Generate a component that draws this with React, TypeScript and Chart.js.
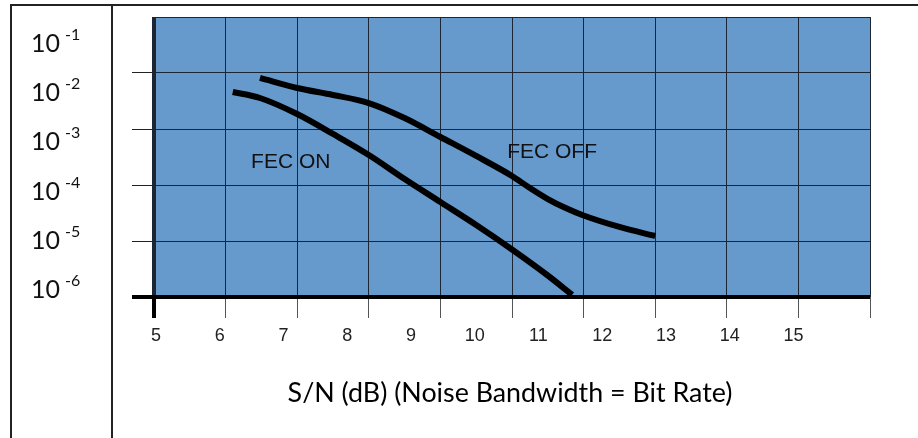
import React, { useEffect, useRef } from 'react';
import { Chart, registerables } from 'chart.js';

Chart.register(...registerables);

// ---- data ----
const xTicks = [5, 6, 7, 8, 9, 10, 11, 12, 13, 14, 15];
const xTickLabels = ['5', '6', '7', '8', '9', '10', '11', '12', '13', '14', '15'];
const yDecades = [1e-6, 1e-5, 1e-4, 1e-3, 1e-2, 1e-1];
const yLabelExponents = ['-1', '-2', '-3', '-4', '-5', '-6'];

const fecOnX = [6.1, 6.48, 7.0, 7.5, 8.0, 8.5, 9.0, 9.5, 10.0, 10.5, 10.84];
const fecOnBer = [4.58e-3, 3.58e-3, 1.85e-3, 8.15e-4, 3.43e-4, 1.28e-4, 4.97e-5, 1.93e-5, 7.05e-6, 2.42e-6, 1.09e-6];

const fecOffX = [6.48, 7.0, 7.5, 8.0, 8.5, 9.0, 9.5, 10.0, 10.25, 10.5, 10.75, 11.0, 11.5, 12.0];
const fecOffBer = [8.15e-3, 5.39e-3, 4.05e-3, 2.91e-3, 1.57e-3, 7.2e-4, 3.3e-4, 1.45e-4, 8.84e-5, 5.62e-5, 3.88e-5, 2.85e-5, 1.78e-5, 1.23e-5];

const curveLabelText = ['FEC ON', 'FEC OFF'];
const curveLabelX = [6.91, 10.56];
const curveLabelY = [2.6e-4, 3.9e-4];

const axisTitle = 'S/N (dB) (Noise Bandwidth = Bit Rate)';

// label axis range (tick labels in the original are not aligned with the grid)
const labelAxisMin = 4.97;
const labelAxisMax = 16.2;

const PLOT_BG = '#6699cc';
const GRID = '#1c2633';

const decor = {
  id: 'decor',
  beforeDraw(chart: any) {
    const { ctx, chartArea: a, width, height } = chart;
    ctx.save();
    ctx.fillStyle = '#ffffff';
    ctx.fillRect(0, 0, width, height);
    ctx.fillStyle = PLOT_BG;
    ctx.fillRect(a.left, a.top, a.right - a.left, a.bottom - a.top);
    ctx.restore();
  },
  afterDraw(chart: any) {
    const { ctx, chartArea: a, width, height, scales } = chart;
    ctx.save();
    // table borders
    ctx.strokeStyle = '#222';
    ctx.lineWidth = 2;
    ctx.beginPath();
    ctx.moveTo(10, 5);
    ctx.lineTo(width, 5);
    ctx.moveTo(11, 5);
    ctx.lineTo(11, height);
    ctx.moveTo(112, 5);
    ctx.lineTo(112, height);
    ctx.stroke();

    // left column labels
    ctx.fillStyle = '#111';
    ctx.textAlign = 'left';
    ctx.textBaseline = 'alphabetic';
    yLabelExponents.forEach((e, i) => {
      const base = 52 + i * 49.2;
      ctx.font = '25px Lato';
      ctx.fillText('10', 31, base);
      ctx.font = '16px Lato';
      ctx.fillText(e, 65, base - 12);
    });

    // curve labels
    ctx.font = '21px "Liberation Sans", Arial, sans-serif';
    ctx.textAlign = 'center';
    ctx.textBaseline = 'middle';
    ctx.fillStyle = '#111';
    curveLabelText.forEach((t, i) => {
      const px = scales.x.getPixelForValue(curveLabelX[i]);
      const py = scales.y.getPixelForValue(curveLabelY[i]);
      ctx.fillText(t, px, py);
    });

    // axis title
    ctx.font = '26px Lato';
    const w = ctx.measureText(axisTitle).width;
    const size = (26 * 445) / w;
    ctx.font = `${size}px Lato`;
    ctx.textAlign = 'center';
    ctx.textBaseline = 'alphabetic';
    ctx.fillStyle = '#000';
    ctx.fillText(axisTitle, (a.left + a.right) / 2 - 2, 402);
    ctx.restore();
  },
};

export default function App() {
  const ref = useRef<HTMLCanvasElement | null>(null);

  useEffect(() => {
    if (!ref.current) return;
    const chart = new Chart(ref.current, {
      type: 'line',
      data: {
        datasets: [
          {
            label: 'FEC ON',
            data: fecOnX.map((x, i) => ({ x, y: fecOnBer[i] })),
            borderColor: '#000',
            borderWidth: 6,
            pointRadius: 0,
            cubicInterpolationMode: 'monotone',
            fill: false,
            xAxisID: 'x',
            yAxisID: 'y',
          },
          {
            label: 'FEC OFF',
            data: fecOffX.map((x, i) => ({ x, y: fecOffBer[i] })),
            borderColor: '#000',
            borderWidth: 6,
            pointRadius: 0,
            cubicInterpolationMode: 'monotone',
            fill: false,
            xAxisID: 'x',
            yAxisID: 'y',
          },
        ],
      },
      options: {
        responsive: false,
        animation: false,
        layout: { padding: { top: 17, right: 48, left: 0, bottom: 0 } },
        plugins: { legend: { display: false }, tooltip: { enabled: false } },
        scales: {
          x: {
            type: 'linear',
            min: 5,
            max: 15,
            position: 'bottom',
            weight: 0,
            afterBuildTicks: (s: any) => {
              s.ticks = xTicks.map((v) => ({ value: v }));
            },
            afterFit: (s: any) => {
              s.height = 21;
            },
            ticks: { display: false },
            border: { display: false },
            grid: {
              color: GRID,
              lineWidth: (c: any) => (c.tick && c.tick.value === 5 ? 4 : 1),
              tickLength: 21,
              tickColor: (c: any) => (c.tick && c.tick.value === 5 ? '#000' : '#555'),
            },
          },
          x2: {
            type: 'linear',
            min: labelAxisMin,
            max: labelAxisMax,
            position: 'bottom',
            weight: 1,
            afterBuildTicks: (s: any) => {
              s.ticks = xTicks.map((v) => ({ value: v }));
            },
            afterFit: (s: any) => {
              s.height = 120;
            },
            border: { display: false },
            grid: { display: false, drawTicks: false },
            ticks: {
              autoSkip: false,
              maxRotation: 0,
              padding: 7,
              color: '#222',
              font: { family: '"Liberation Sans", Arial, sans-serif', size: 18 },
              callback: (_v: any, i: number) => xTickLabels[i],
            },
          },
          y: {
            type: 'logarithmic',
            min: 1e-6,
            max: 1e-1,
            position: 'left',
            afterBuildTicks: (s: any) => {
              s.ticks = yDecades.map((v) => ({ value: v }));
            },
            afterFit: (s: any) => {
              s.width = 154;
            },
            ticks: { display: false },
            border: { display: false },
            grid: {
              color: (c: any) => (c.tick && c.tick.value === 1e-6 ? '#000' : GRID),
              lineWidth: (c: any) => (c.tick && c.tick.value === 1e-6 ? 4 : 1),
              tickLength: 22,
              tickColor: (c: any) =>
                c.tick && c.tick.value === 1e-1 ? 'rgba(0,0,0,0)' : c.tick && c.tick.value === 1e-6 ? '#000' : '#222',
            },
          },
        },
      } as any,
      plugins: [decor],
    });
    return () => chart.destroy();
  }, []);

  return (
    <div style={{ position: 'fixed', left: 0, top: 0, width: 918, height: 438, background: '#fff' }}>
      <canvas ref={ref} width={918} height={438} style={{ display: 'block', width: 918, height: 438 }} />
    </div>
  );
}
